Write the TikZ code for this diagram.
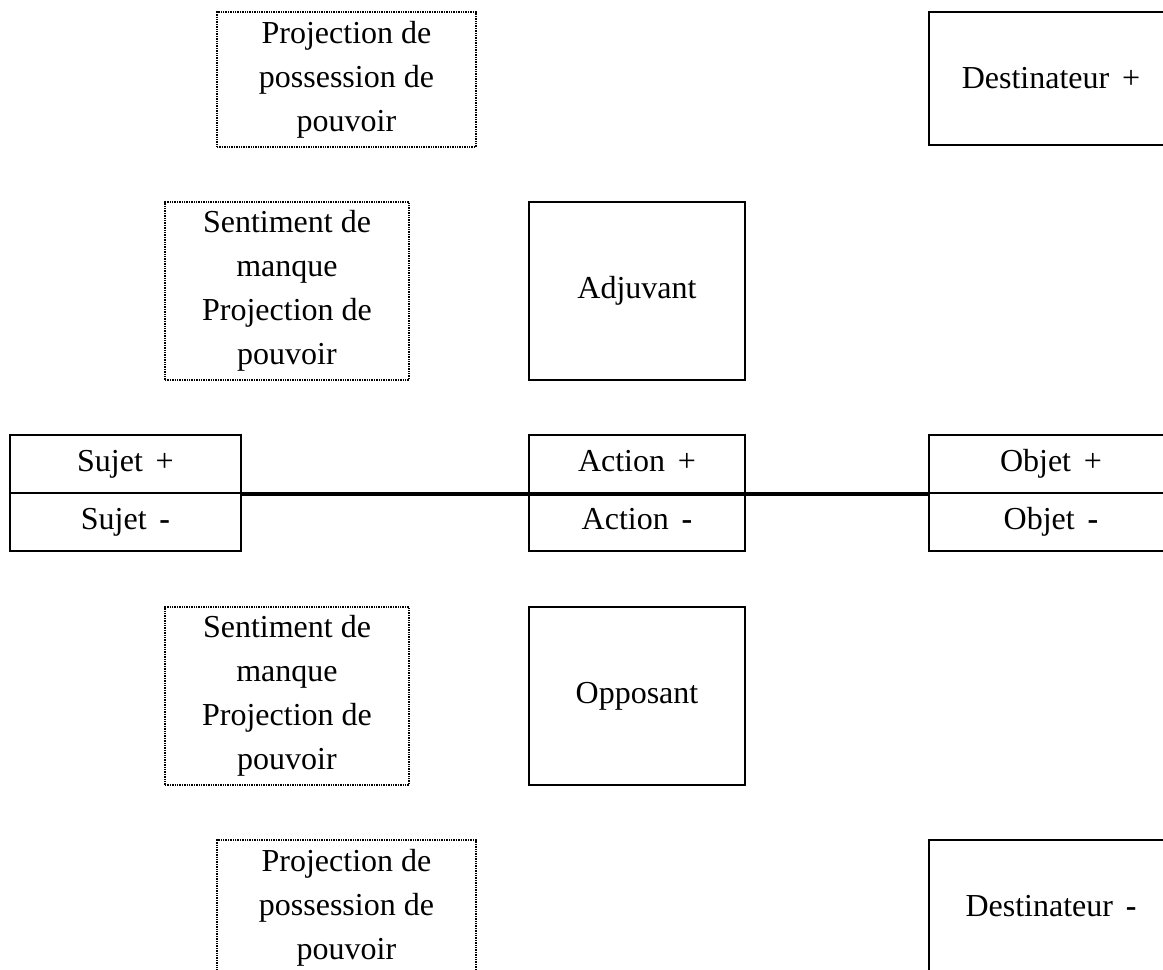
\documentclass[tikz,border=0pt]{standalone}
\usepackage{fontspec}
\setmainfont{Liberation Serif}
\usepackage{tikz}
\usetikzlibrary{positioning}

\begin{document}
\begin{tikzpicture}
[x=0.5pt,y=-0.5pt,
 every node/.style={font=\fontsize{16}{22}\selectfont,align=center,inner sep=0pt},
 dotbox/.style={draw=black,line width=0.8pt,dash pattern=on 0.7pt off 0.5pt},
 plainbox/.style={draw=black,line width=1pt},
 proj/.style={dotbox,minimum width=129.5pt,minimum height=67.5pt},
 sent/.style={dotbox,minimum width=122pt,minimum height=89pt},
 role/.style={plainbox,minimum width=108pt,minimum height=89pt},
 dest/.style={plainbox,minimum width=122pt,minimum height=66.5pt},
 half/.style={plainbox,minimum height=29pt,text height=11pt,text depth=3.5pt},
 axis/.style={line width=2pt}]
\clip (0,0) rectangle (1163,970);

\node[proj] (projtop) at (346.5,79.5) {Projection de\\possession de\\pouvoir};
\node[dest] (desttop) at (1051,78.5) {Destinateur\hspace{.4em}+};

\node[sent] (senttop) at (287,291) {Sentiment de\\manque\\Projection de\\pouvoir};
\node[role] (adjuvant) at (637,291) {Adjuvant};

\node[half,minimum width=115.5pt] (sujetp) at (125.5,464) {Sujet\hspace{.4em}+};
\node[half,minimum width=115.5pt] (sujetm) at (125.5,522) {Sujet\hspace{.4em}\textbf{-}};
\node[half,minimum width=108pt] (actionp) at (637,464) {Action\hspace{.4em}+};
\node[half,minimum width=108pt] (actionm) at (637,522) {Action\hspace{.4em}\textbf{-}};
\node[half,minimum width=122pt] (objetp) at (1051,464) {Objet\hspace{.4em}+};
\node[half,minimum width=122pt] (objetm) at (1051,522) {Objet\hspace{.4em}\textbf{-}};

\node[sent] (sentbot) at (287,696) {Sentiment de\\manque\\Projection de\\pouvoir};
\node[role] (opposant) at (637,696) {Opposant};

\node[proj] (projbot) at (346.5,907.5) {Projection de\\possession de\\pouvoir};
\node[dest] (destbot) at (1051,906.5) {Destinateur\hspace{.4em}\textbf{-}};

\draw [axis] (sujetp.south east) -- (objetp.south west);
\end{tikzpicture}
\end{document}
